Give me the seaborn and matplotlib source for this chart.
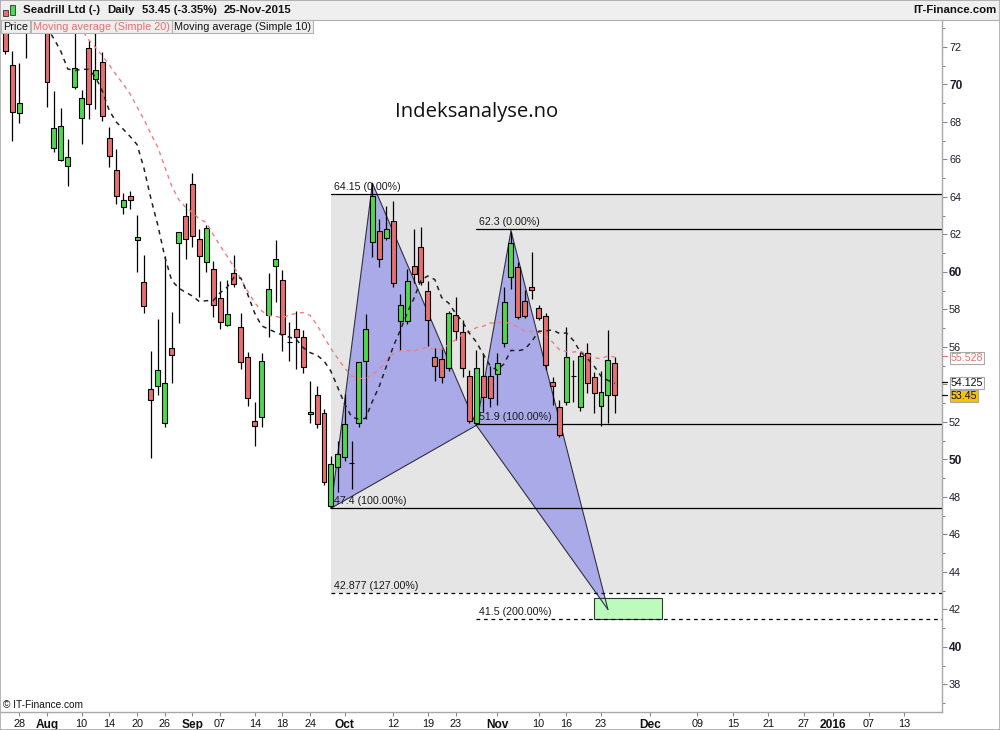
import numpy as np
import pandas as pd
import matplotlib
matplotlib.use("Agg")
import matplotlib.pyplot as plt
import matplotlib.transforms as mtrans
from matplotlib.patches import Polygon, Rectangle
from matplotlib.ticker import MultipleLocator
import seaborn as sns

# ---------------- data ----------------
first_day = "2015-07-24"
last_day = "2015-11-25"
axis_origin_day = "2015-08-03"

opens = [73.20, 71.04, 68.46, 72.90, 74.80, 76.00, 74.00, 66.60, 65.99, 65.67,
         69.88, 68.20, 71.93, 70.29, 71.18, 67.16, 65.42, 63.45, 64.04, 61.69,
         59.48, 53.78, 53.92, 51.93, 55.93, 61.53, 62.97, 64.68, 61.74, 60.55,
         60.14, 58.60, 57.16, 59.93, 57.06, 55.45, 52.07, 52.25, 57.69, 60.32,
         59.56, 56.27, 56.94, 56.51, 52.41, 53.44, 52.46, 47.52, 49.58, 50.12,
         49.83, 51.93, 55.25, 61.60, 62.19, 61.80, 62.70, 57.40, 57.40, 60.34,
         61.32, 58.97, 55.48, 55.34, 54.87, 57.71, 56.78, 54.45, 51.93, 54.45,
         54.45, 54.56, 56.20, 59.71, 60.25, 58.44, 59.22, 58.10, 57.67, 54.15,
         52.82, 53.08, 54.45, 52.82, 55.66, 54.38, 52.85, 53.44, 55.17]
highs = [73.60, 71.80, 71.16, 75.50, 76.80, 77.40, 74.50, 69.67, 68.76, 67.09,
         72.90, 69.70, 72.37, 73.00, 71.72, 67.73, 66.56, 64.23, 64.34, 63.04,
         60.91, 55.79, 57.48, 60.85, 57.85, 62.15, 63.67, 65.26, 62.30, 62.51,
         60.60, 59.52, 59.57, 60.91, 57.80, 55.72, 53.05, 55.66, 59.93, 61.71,
         60.11, 57.32, 57.92, 56.91, 54.19, 53.92, 52.68, 50.19, 50.97, 53.49,
         51.00, 55.18, 57.76, 64.73, 62.81, 63.50, 63.80, 58.83, 60.14, 62.28,
         62.38, 59.54, 55.93, 55.93, 57.90, 58.69, 57.44, 54.77, 55.84, 55.66,
         55.00, 55.66, 59.22, 62.13, 60.55, 59.04, 61.05, 58.24, 57.80, 54.38,
         53.17, 57.05, 55.31, 55.75, 56.20, 54.68, 54.72, 56.91, 55.45]
lows = [71.63, 67.00, 67.96, 71.40, 74.20, 75.40, 68.82, 66.42, 65.92, 64.60,
        69.75, 66.80, 68.14, 68.70, 68.05, 65.62, 63.63, 63.08, 63.36, 60.02,
        57.80, 50.10, 53.42, 51.75, 54.06, 57.26, 60.68, 61.35, 58.69, 60.02,
        57.62, 56.98, 57.10, 59.22, 54.81, 52.87, 50.74, 51.72, 56.55, 58.42,
        55.80, 55.27, 54.81, 54.60, 51.96, 51.70, 48.65, 47.40, 48.27, 49.90,
        48.43, 51.75, 52.14, 60.78, 60.28, 61.70, 59.20, 55.84, 57.20, 59.40,
        59.30, 56.05, 54.20, 54.06, 54.70, 56.37, 54.42, 51.96, 51.82, 52.55,
        52.78, 52.91, 56.02, 59.08, 57.50, 57.53, 58.55, 57.45, 54.77, 52.91,
        51.20, 52.91, 53.08, 52.60, 53.56, 52.46, 51.79, 51.93, 52.46]
closes = [71.80, 68.52, 69.00, 74.80, 76.00, 76.50, 70.12, 67.66, 67.77, 66.13,
          70.90, 69.26, 68.94, 70.76, 68.34, 66.17, 64.07, 63.86, 63.84, 61.85,
          58.19, 53.17, 54.76, 54.06, 55.56, 62.12, 61.74, 61.92, 60.85, 62.33,
          58.22, 57.32, 57.74, 59.34, 55.18, 53.26, 51.80, 55.24, 59.08, 60.68,
          56.68, 56.27, 56.53, 54.92, 52.52, 51.88, 48.78, 49.74, 50.29, 51.88,
          49.83, 55.18, 56.94, 64.05, 60.68, 62.28, 59.40, 58.24, 59.54, 59.89,
          59.45, 57.44, 55.00, 54.38, 57.80, 56.85, 54.90, 52.07, 54.87, 53.35,
          53.26, 55.14, 58.42, 61.53, 57.58, 57.67, 59.06, 57.53, 55.04, 53.92,
          51.31, 55.45, 54.45, 55.52, 54.06, 53.53, 53.62, 55.30, 53.45]
# closes of the sessions before the first visible candle (Jul 13 - Jul 23)
prior_closes = [81.0, 80.0, 79.0, 77.5, 76.0, 74.5, 73.5, 74.5, 75.5]

tick_dates = ["2015-07-28", "2015-08-03", "2015-08-10", "2015-08-14", "2015-08-20",
              "2015-08-26", "2015-09-01", "2015-09-07", "2015-09-14", "2015-09-18",
              "2015-09-24", "2015-10-01", "2015-10-12", "2015-10-19", "2015-10-23",
              "2015-11-02", "2015-11-10", "2015-11-16", "2015-11-23", "2015-12-01",
              "2015-12-09", "2015-12-15", "2015-12-21", "2015-12-27", "2016-01-01",
              "2016-01-07", "2016-01-13"]
tick_labels = ["28", "Aug", "10", "14", "20", "26", "Sep", "07", "14", "18", "24",
               "Oct", "12", "19", "23", "Nov", "10", "16", "23", "Dec", "09", "15",
               "21", "27", "2016", "07", "13"]
month_labels = ["Aug", "Sep", "Oct", "Nov", "Dec", "2016"]

price_ticks = list(range(38, 73, 2))
hidden_price_labels = [54]  # covered by the 54.125 marker in the original

level_values = [64.15, 62.3, 51.9, 47.4, 42.877, 41.5]
level_texts = ["64.15 (0.00%)", "62.3 (0.00%)", "51.9 (100.00%)", "47.4 (100.00%)",
               "42.877 (127.00%)", "41.5 (200.00%)"]
level_start = ["2015-09-29", "2015-10-28", "2015-10-28", "2015-09-29", "2015-09-29", "2015-10-28"]
level_dashed = [False, False, False, False, True, True]

pattern_dates = ["2015-09-29", "2015-10-07", "2015-10-28", "2015-11-04", "2015-11-24"]
pattern_prices = [47.4, 64.73, 51.82, 62.2, 42.0]

zone_dates = ["2015-11-20", "2015-12-03"]
zone_prices = [41.5, 42.6]

marker_values = [55.528, 54.125, 53.45]
marker_texts = ["55.528", "54.125", "53.45"]

# ---------------- helpers ----------------
all_days = pd.bdate_range("2015-07-13", last_day)
i0 = all_days.get_loc(pd.Timestamp(axis_origin_day))
last_pos = all_days.get_loc(pd.Timestamp(last_day)) - i0
FUTURE_STEP = 0.852  # spacing of calendar days after the last session


def pos(d):
    d = pd.Timestamp(d)
    if d <= pd.Timestamp(last_day):
        return all_days.get_loc(d) - i0
    return last_pos + (d - pd.Timestamp(last_day)).days * FUTURE_STEP


days = pd.bdate_range(first_day, last_day)
xs = np.array([pos(d) for d in days], dtype=float)
O = np.array(opens); H = np.array(highs); L = np.array(lows); C = np.array(closes)
full_close = pd.Series(prior_closes + closes)
sma10 = full_close.rolling(10).mean().to_numpy()[len(prior_closes):]
sma20 = full_close.rolling(20).mean().to_numpy()[len(prior_closes):]

# ---------------- style ----------------
sns.set_theme(style="white")
plt.rcParams["font.family"] = ["Liberation Sans", "DejaVu Sans"]

W, Hpx = 1000, 730
fig = plt.figure(figsize=(10, 7.3), dpi=100)
ax = fig.add_axes([1 / W, 18 / Hpx, 941 / W, 692 / Hpx])
ax.set_facecolor("white")

PX = 6.925  # pixels per session
ax.set_xlim((1 - 47) / PX, (942 - 47) / PX)
ax.set_ylim(36.533, 73.44)

GREEN = "#4cd94c"
RED = "#e86f6f"

# shaded zone
xr = ax.get_xlim()[1]
xX = pos(pattern_dates[0])
ax.add_patch(Rectangle((xX, level_values[4]), xr - xX, level_values[0] - level_values[4],
                       facecolor="#e5e5e5", edgecolor="none", zorder=0.5))

# pattern triangles
px_ = [pos(d) for d in pattern_dates]
tri1 = Polygon([(px_[0], pattern_prices[0]), (px_[1], pattern_prices[1]), (px_[2], pattern_prices[2])],
               closed=True, facecolor="#6464f0", alpha=0.45, edgecolor="none", zorder=1)
tri2 = Polygon([(px_[2], pattern_prices[2]), (px_[3], pattern_prices[3]), (px_[4], pattern_prices[4])],
               closed=True, facecolor="#6464f0", alpha=0.45, edgecolor="none", zorder=1)
ax.add_patch(tri1); ax.add_patch(tri2)
for a, b in [(0, 1), (1, 2), (2, 0), (2, 3), (3, 4), (4, 2)]:
    ax.plot([px_[a], px_[b]], [pattern_prices[a], pattern_prices[b]], color="#303040", lw=0.8, zorder=1.6)

# green target box
ax.add_patch(Rectangle((pos(zone_dates[0]), zone_prices[0]),
                       pos(zone_dates[1]) - pos(zone_dates[0]), zone_prices[1] - zone_prices[0],
                       facecolor="#b5fbb5", edgecolor="#222222", lw=0.8, alpha=0.9, zorder=1.4))

# level lines with labels
for v, t, s, dsh in zip(level_values, level_texts, level_start, level_dashed):
    x0 = pos(s)
    ax.plot([x0, xr], [v, v], color="black", lw=0.9,
            linestyle=(0, (3, 3)) if dsh else "-", zorder=1.8)
    ax.annotate(t, xy=(x0, v), xytext=(2, 1.5), textcoords="offset points",
                fontsize=7.7, color="#1a1a1a", ha="left", va="bottom", zorder=1.9)

# candles
up = C > O
down = C < O
cols = np.where(up, GREEN, np.where(down, RED, "black"))
ax.vlines(xs, L, H, color="black", lw=0.9, zorder=2.5)
ax.bar(xs, C - O, bottom=O, width=0.72, color=cols, edgecolor="black", linewidth=0.8, zorder=3)

# moving averages
sns.lineplot(x=xs, y=sma20, ax=ax, color="#ef7f7f", lw=1.0, linestyle=(0, (3, 3)), zorder=4)
sns.lineplot(x=xs, y=sma10, ax=ax, color="#222222", lw=1.1, linestyle=(0, (3, 3)), zorder=4)

# axes styling
for sp in ["left", "top"]:
    ax.spines[sp].set_visible(False)
for sp in ["right", "bottom"]:
    ax.spines[sp].set_color("#a8a8a8")
    ax.spines[sp].set_linewidth(1.0)
ax.yaxis.tick_right()
ax.set_yticks(price_ticks)
ax.set_yticklabels(["" if v in hidden_price_labels else f"{v:d}" for v in price_ticks])
ax.yaxis.set_minor_locator(MultipleLocator(1))
ax.tick_params(axis="y", which="major", length=3.6, width=0.8, color="#888888",
               labelsize=7.8, labelcolor="#1c1c2c", pad=1.5, right=True, left=False)
ax.tick_params(axis="y", which="minor", length=2.4, width=0.8, color="#888888", right=True, left=False)
for lab in ax.get_yticklabels():
    txt = lab.get_text()
    if txt and int(txt) % 10 == 0:
        lab.set_fontweight("bold")
        lab.set_fontsize(8.6)

ax.set_xticks([pos(d) for d in tick_dates])
ax.set_xticklabels(tick_labels)
ax.tick_params(axis="x", which="major", length=3, width=0.8, color="#888888",
               labelsize=7.8, labelcolor="#111111", pad=2.2, bottom=True)
for lab in ax.get_xticklabels():
    if lab.get_text() in month_labels:
        lab.set_fontweight("bold")
        lab.set_fontsize(8.6)
ax.set_xlabel(""); ax.set_ylabel("")

# right side value markers
bt = mtrans.blended_transform_factory(ax.transAxes, ax.transData)
marker_style = [("#e86f6f", "white"), ("#111111", "white"), ("#111111", "#f5c400")]
marker_shift = [-1.3, -0.4, -1.0]
for v, t, (tc, bg), dy in zip(marker_values, marker_texts, marker_style, marker_shift):
    ax.plot([1.0, 1.0055], [v, v], color=tc, lw=0.9, transform=bt, clip_on=False, zorder=5)
    ax.annotate(t, xy=(1.0, v), xycoords=bt, xytext=(6.5, dy), textcoords="offset points",
                fontsize=7.7, color=tc, ha="left", va="center", annotation_clip=False,
                bbox=dict(boxstyle="square,pad=0.08", fc=bg, ec="#a8a8a8", lw=0.8), zorder=6)

# watermark and copyright
ax.text((477 - 1) / 941, (730 - 112 - 18) / 692, "Indeksanalyse.no", transform=ax.transAxes,
        fontsize=14.6, family=["Open Sans", "DejaVu Sans"], ha="center", va="center",
        color="#111111", zorder=6)
ax.text(2 / 941, 7 / 692, "\u00a9 IT-Finance.com", transform=ax.transAxes, fontsize=7.3,
        ha="left", va="center", color="#111111", zorder=6)

# header bar
hb = 20 / Hpx
fig.add_artist(Rectangle((0, 1 - hb), 1, hb, transform=fig.transFigure,
                         facecolor="#efefef", edgecolor="none", zorder=0))
fig.add_artist(plt.Line2D([0, 1], [1 - hb, 1 - hb], transform=fig.transFigure,
                          color="#b0b0b0", lw=0.8))
# tiny candle icon
fig.add_artist(Rectangle((3 / W, 1 - 16 / Hpx), 5 / W, 6 / Hpx, transform=fig.transFigure,
                         facecolor=RED, edgecolor="#333333", lw=0.6))
fig.add_artist(Rectangle((10 / W, 1 - 15 / Hpx), 5 / W, 10 / Hpx, transform=fig.transFigure,
                         facecolor=GREEN, edgecolor="#333333", lw=0.6))
yt = 1 - 10 / Hpx
for x, t in [(23, "Seadrill Ltd (-)"), (107, "Daily"), (142, "53.45 (-3.35%)"), (224, "25-Nov-2015")]:
    fig.text(x / W, yt, t, fontsize=8.2, fontweight="bold", ha="left", va="center", color="#111111")
fig.text(996 / W, yt, "IT-Finance.com", fontsize=8.2, fontweight="bold", ha="right",
         va="center", color="#111111")

# legend row
yl = 1 - 26.5 / Hpx
for x, t, c in [(3, "Price", "#111111"), (33, "Moving average (Simple 20)", "#e86f6f"),
                (174, "Moving average (Simple 10)", "#111111")]:
    fig.text(x / W, yl, t, fontsize=7.8, ha="left", va="center", color=c, zorder=10,
             bbox=dict(boxstyle="square,pad=0.18", fc="#eeeeee", ec="#b4b4b4", lw=0.8))

# outer frame
fig.add_artist(Rectangle((0, 0), 1, 1, transform=fig.transFigure, fill=False,
                         edgecolor="#a8a8a8", lw=1.2))

fig.savefig("out.png", dpi=100)
